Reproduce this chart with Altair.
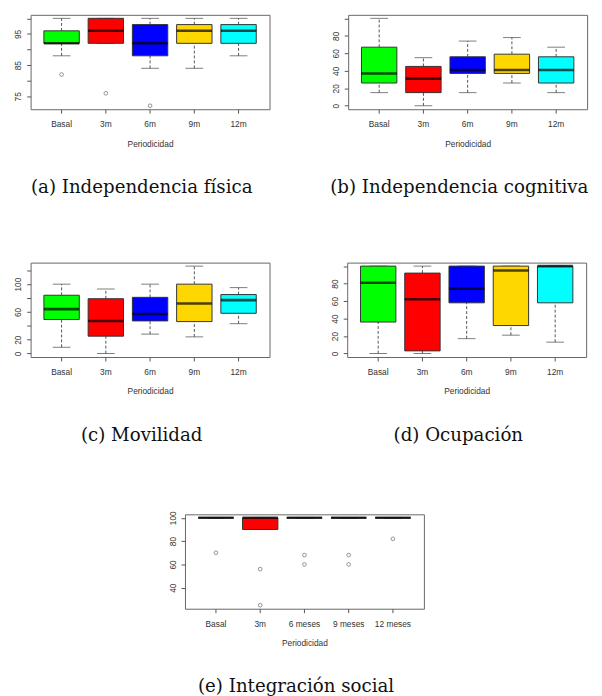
import altair as alt
import pandas as pd

CATS = ["Basal", "3m", "6m", "9m", "12m"]
CATS_E = ["Basal", "3m", "6 meses", "9 meses", "12 meses"]
BOX_COLORS = ["#00FF00", "#FF0000", "#0000FF", "#FFD700", "#00FFFF"]
X_TITLE = "Periodicidad"

# (a) Independencia física
A_LOW = [88, 92, 84, 84, 88]
A_Q1 = [92, 92, 88, 92, 92]
A_MED = [92, 96, 92, 96, 96]
A_Q3 = [96, 100, 98, 98, 98]
A_HIGH = [100, 100, 100, 100, 100]
A_OUT_CAT = ["Basal", "3m", "6m"]
A_OUT_VAL = [82, 76, 72]
A_TICKS = [75, 80, 85, 90, 95, 100]
A_LABELED = [75, 85, 95]
A_DOMAIN = [70.88, 101.12]

# (b) Independencia cognitiva
B_LOW = [15, 0, 15, 26, 15]
B_Q1 = [26, 15, 37, 37, 26]
B_MED = [37, 31, 41, 41, 41]
B_Q3 = [67, 45, 56, 59, 56]
B_HIGH = [100, 55, 74, 78, 67]
B_OUT_CAT = []
B_OUT_VAL = []
B_TICKS = [0, 20, 40, 60, 80, 100]
B_LABELED = [0, 20, 40, 60, 80]
B_DOMAIN = [-4, 104]

# (c) Movilidad
C_LOW = [9, 0, 28, 24, 43]
C_Q1 = [49, 25, 47, 46, 58]
C_MED = [64, 47, 57, 72, 77]
C_Q3 = [84, 79, 81, 100, 85]
C_HIGH = [100, 93, 100, 126, 95]
C_OUT_CAT = []
C_OUT_VAL = []
C_TICKS = [0, 20, 40, 60, 80, 100, 120]
C_LABELED = [0, 20, 60, 100]
C_DOMAIN = [-5.04, 131.04]

# (d) Ocupación
D_LOW = [0, 0, 17, 21, 13]
D_Q1 = [36, 3, 58, 32, 58]
D_MED = [81, 62, 74, 95, 100]
D_Q3 = [100, 92, 100, 100, 100]
D_HIGH = [100, 100, 100, 100, 100]
D_OUT_CAT = []
D_OUT_VAL = []
D_TICKS = [0, 20, 40, 60, 80, 100]
D_LABELED = [0, 20, 40, 60, 80]
D_DOMAIN = [-4, 104]

# (e) Integración social
E_LOW = [100, 90, 100, 100, 100]
E_Q1 = [100, 90, 100, 100, 100]
E_MED = [100, 100, 100, 100, 100]
E_Q3 = [100, 100, 100, 100, 100]
E_HIGH = [100, 100, 100, 100, 100]
E_OUT_CAT = ["Basal", "3m", "3m", "6 meses", "6 meses", "9 meses", "9 meses", "12 meses"]
E_OUT_VAL = [70, 56, 25, 68, 60, 68, 60, 82]
E_TICKS = [40, 60, 80, 100]
E_LABELED = [40, 60, 80, 100]
E_DOMAIN = [22, 103]

SANS = "Liberation Sans"
SERIF = "DejaVu Serif"
W, H = 243, 96
BAND = W * 0.8 / 5.4
FRAME = "#666"


def panel(cats, low, q1, med, q3, high, out_cat, out_val, domain, ticks, labeled, caption):
    box_df = pd.DataFrame({"cat": cats, "low": low, "q1": q1, "med": med,
                           "q3": q3, "high": high, "fill": BOX_COLORS})
    out_df = pd.DataFrame({"cat": out_cat, "val": out_val})

    xs = alt.Scale(domain=cats, paddingInner=0.2, paddingOuter=0.3)
    xax = alt.Axis(domain=False, grid=False, tickSize=4, tickColor="#555",
                   labelAngle=0, labelPadding=7, labelFont=SANS, labelFontSize=8.5,
                   labelColor="#333", titleFont=SANS, titleFontSize=8.5,
                   titleFontWeight="normal", titleColor="#333", titlePadding=11)
    ys = alt.Scale(domain=domain, nice=False, zero=False)
    hidden = f"indexof({labeled}, datum.value) < 0"
    yax = alt.Axis(values=ticks, domain=False, grid=False, tickSize=4, tickColor="#555",
                   labelExpr=f"{hidden} ? '' : datum.label",
                   labelAngle=270, labelAlign="center", labelBaseline="bottom",
                   labelPadding=4, labelFont=SANS,
                   labelFontSize={"condition": {"test": hidden, "value": 0.1}, "value": 8.5},
                   labelColor="#333", labelOverlap=False, labelFlush=False)

    def X():
        return alt.X("cat:N", scale=xs, axis=xax, title=X_TITLE)

    def Y(field):
        return alt.Y(field, scale=ys, axis=yax, title=None)

    base = alt.Chart(box_df)
    dash = dict(strokeDash=[3, 2], color="#555", strokeWidth=1)
    w_lo = base.mark_rule(**dash).encode(x=X(), y=Y("low:Q"), y2="q1:Q")
    w_hi = base.mark_rule(**dash).encode(x=X(), y=Y("q3:Q"), y2="high:Q")
    cap_lo = base.mark_tick(size=BAND / 2, thickness=1, color="#444").encode(x=X(), y=Y("low:Q"))
    cap_hi = base.mark_tick(size=BAND / 2, thickness=1, color="#444").encode(x=X(), y=Y("high:Q"))
    box = base.mark_bar(stroke="#333", strokeWidth=1).encode(
        x=X(), y=Y("q1:Q"), y2="q3:Q", color=alt.Color("fill:N", scale=None))
    med_l = base.mark_tick(size=BAND, thickness=2.6, color="#000").encode(x=X(), y=Y("med:Q"))
    layers = [w_lo, w_hi, cap_lo, cap_hi, box, med_l]
    if len(out_cat):
        pts = alt.Chart(out_df).mark_point(shape="circle", size=14, filled=False,
                                           color="#444", strokeWidth=0.8).encode(
            x=X(), y=Y("val:Q"))
        layers.append(pts)
    return alt.layer(*layers).properties(
        width=W, height=H,
        title=alt.TitleParams(caption, orient="bottom", anchor="middle", frame="bounds",
                              font=SERIF, fontSize=18.5, fontWeight="normal",
                              color="#111", offset=31))


pa = panel(CATS, A_LOW, A_Q1, A_MED, A_Q3, A_HIGH, A_OUT_CAT, A_OUT_VAL,
           A_DOMAIN, A_TICKS, A_LABELED, "(a) Independencia física")
pb = panel(CATS, B_LOW, B_Q1, B_MED, B_Q3, B_HIGH, B_OUT_CAT, B_OUT_VAL,
           B_DOMAIN, B_TICKS, B_LABELED, "(b) Independencia cognitiva")
pc = panel(CATS, C_LOW, C_Q1, C_MED, C_Q3, C_HIGH, C_OUT_CAT, C_OUT_VAL,
           C_DOMAIN, C_TICKS, C_LABELED, "(c) Movilidad")
pd_ = panel(CATS, D_LOW, D_Q1, D_MED, D_Q3, D_HIGH, D_OUT_CAT, D_OUT_VAL,
            D_DOMAIN, D_TICKS, D_LABELED, "(d) Ocupación")
pe = panel(CATS_E, E_LOW, E_Q1, E_MED, E_Q3, E_HIGH, E_OUT_CAT, E_OUT_VAL,
           E_DOMAIN, E_TICKS, E_LABELED, "(e) Integración social")

spacer = alt.Chart(pd.DataFrame({"v": [0]})).mark_point(opacity=0).encode(
    x=alt.value(0), y=alt.value(0)
).properties(width=139, height=96, view=alt.ViewBackground(strokeOpacity=0))

row1 = alt.hconcat(pa, pb, spacing=60)
row2 = alt.hconcat(pc, pd_, spacing=60)
row3 = alt.hconcat(spacer, pe, spacing=0)
chart = alt.vconcat(row1, row2, row3, spacing=66).properties(
    padding={"left": 5, "top": 0, "right": 5, "bottom": 5},
    background="white",
).configure_view(stroke=FRAME, strokeWidth=1)

chart.save("out.html", embed_options={"renderer": "svg", "actions": False})
